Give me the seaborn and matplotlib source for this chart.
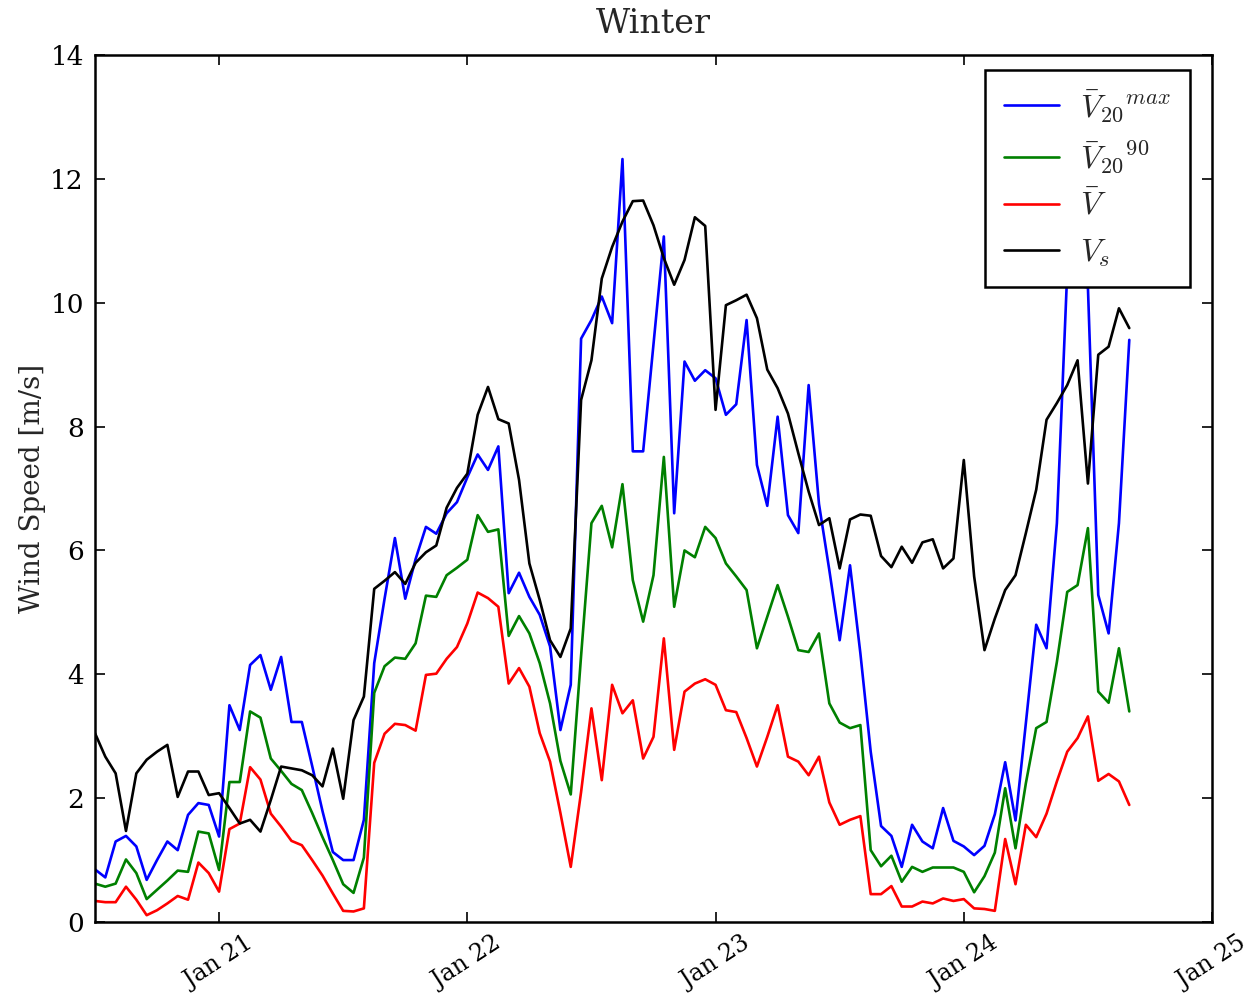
import numpy as np
import pandas as pd
import matplotlib
matplotlib.use("Agg")
import matplotlib.pyplot as plt
import matplotlib.dates as mdates
import seaborn as sns

# Hourly wind speed series, starting 20 Jan 12:00
start = "2012-01-20 12:00"

v20_max = [0.85, 0.72, 1.30, 1.39, 1.22, 0.68, 1.00, 1.30, 1.16, 1.73,
           1.92, 1.89, 1.38, 3.50, 3.10, 4.15, 4.31, 3.75, 4.28, 3.23,
           3.23, 2.52, 1.79, 1.13, 1.00, 1.00, 1.65, 4.18, 5.22, 6.20,
           5.22, 5.86, 6.38, 6.27, 6.60, 6.78, 7.18, 7.55, 7.30, 7.68,
           5.31, 5.64, 5.25, 4.96, 4.45, 3.10, 3.83, 9.42, 9.72, 10.10,
           9.67, 12.32, 7.60, 7.60, 9.33, 11.07, 6.60, 9.05, 8.74, 8.91,
           8.78, 8.19, 8.36, 9.72, 7.38, 6.72, 8.16, 6.57, 6.28, 8.67,
           6.75, 5.68, 4.55, 5.76, 4.34, 2.75, 1.55, 1.39, 0.89, 1.57,
           1.30, 1.19, 1.84, 1.31, 1.22, 1.08, 1.23, 1.74, 2.58, 1.64,
           3.21, 4.80, 4.42, 6.44, 10.50, 10.27, 10.25, 5.28, 4.66, 6.44,
           9.40]

v20_90 = [0.62, 0.57, 0.62, 1.01, 0.79, 0.37, 0.52, 0.67, 0.83, 0.81,
          1.46, 1.43, 0.84, 2.26, 2.26, 3.40, 3.30, 2.64, 2.44, 2.23,
          2.13, 1.76, 1.37, 1.00, 0.61, 0.47, 1.04, 3.70, 4.13, 4.27,
          4.25, 4.50, 5.27, 5.25, 5.60, 5.72, 5.85, 6.57, 6.30, 6.34,
          4.62, 4.94, 4.66, 4.18, 3.53, 2.60, 2.06, 4.30, 6.44, 6.72,
          6.05, 7.07, 5.52, 4.85, 5.60, 7.51, 5.09, 6.00, 5.89, 6.38,
          6.20, 5.79, 5.58, 5.36, 4.42, 4.93, 5.44, 4.93, 4.39, 4.36,
          4.66, 3.53, 3.22, 3.13, 3.18, 1.16, 0.90, 1.07, 0.65, 0.89,
          0.81, 0.88, 0.88, 0.88, 0.81, 0.48, 0.74, 1.12, 2.16, 1.19,
          2.24, 3.13, 3.23, 4.20, 5.33, 5.44, 6.36, 3.72, 3.54, 4.42,
          3.40]

v_mean = [0.34, 0.32, 0.32, 0.57, 0.36, 0.11, 0.19, 0.30, 0.42, 0.36,
          0.96, 0.79, 0.49, 1.50, 1.59, 2.50, 2.30, 1.75, 1.54, 1.31,
          1.24, 1.00, 0.75, 0.46, 0.18, 0.17, 0.22, 2.57, 3.04, 3.20,
          3.18, 3.09, 3.99, 4.01, 4.25, 4.44, 4.82, 5.32, 5.23, 5.09,
          3.85, 4.10, 3.80, 3.05, 2.59, 1.76, 0.89, 2.10, 3.45, 2.29,
          3.83, 3.37, 3.58, 2.64, 2.99, 4.58, 2.78, 3.72, 3.85, 3.92,
          3.83, 3.42, 3.39, 2.97, 2.51, 2.99, 3.50, 2.67, 2.59, 2.37,
          2.67, 1.93, 1.57, 1.65, 1.71, 0.45, 0.45, 0.58, 0.25, 0.25,
          0.33, 0.30, 0.38, 0.34, 0.37, 0.22, 0.21, 0.18, 1.34, 0.61,
          1.57, 1.37, 1.75, 2.27, 2.75, 2.97, 3.32, 2.28, 2.39, 2.27,
          1.89]

v_s = [3.05, 2.67, 2.40, 1.47, 2.40, 2.62, 2.75, 2.86, 2.02, 2.43,
       2.43, 2.05, 2.08, 1.84, 1.59, 1.65, 1.46, 1.97, 2.51, 2.48,
       2.45, 2.37, 2.19, 2.80, 1.99, 3.26, 3.64, 5.38, 5.51, 5.65,
       5.46, 5.80, 5.97, 6.08, 6.69, 7.01, 7.24, 8.19, 8.64, 8.12,
       8.05, 7.14, 5.79, 5.20, 4.55, 4.28, 4.74, 8.43, 9.07, 10.39,
       10.90, 11.31, 11.64, 11.65, 11.25, 10.72, 10.29, 10.69, 11.38, 11.24,
       8.27, 9.96, 10.04, 10.13, 9.75, 8.92, 8.62, 8.21, 7.57, 6.95,
       6.41, 6.52, 5.71, 6.50, 6.58, 6.56, 5.91, 5.73, 6.06, 5.80,
       6.13, 6.18, 5.71, 5.87, 7.46, 5.58, 4.39, 4.90, 5.36, 5.60,
       6.28, 6.98, 8.11, 8.38, 8.67, 9.07, 7.08, 9.16, 9.29, 9.91,
       9.59]

labels = [r"$\bar{V}_{20}{}^{max}$", r"$\bar{V}_{20}{}^{90}$",
          r"$\bar{V}$", r"$V_s$"]
colors = ["#0000ff", "#008000", "#ff0000", "#000000"]

times = pd.date_range(start, periods=len(v_s), freq="h")
frames = []
for lab, vals in zip(labels, [v20_max, v20_90, v_mean, v_s]):
    frames.append(pd.DataFrame({"time": times, "speed": vals, "series": lab}))
df = pd.concat(frames, ignore_index=True)

sns.set_style("ticks")
plt.rcParams["font.family"] = ["DejaVu Serif"]
plt.rcParams["mathtext.fontset"] = "cm"
plt.rcParams["axes.linewidth"] = 1.8

fig = plt.figure(figsize=(12.56, 10.0), dpi=100)
ax = fig.add_axes([0.0756, 0.078, 0.8894, 0.867])

sns.lineplot(data=df, x="time", y="speed", hue="series", hue_order=labels,
             palette=dict(zip(labels, colors)), linewidth=1.9,
             estimator=None, ax=ax)

ax.set_xlim(pd.Timestamp("2012-01-20 12:00"), pd.Timestamp("2012-01-25 00:00"))
ax.set_ylim(0, 14)
ax.set_yticks(np.arange(0, 15, 2))
ax.xaxis.set_major_locator(mdates.DayLocator())
ax.xaxis.set_major_formatter(mdates.DateFormatter("%b %d"))

for sp in ax.spines.values():
    sp.set_visible(True)
    sp.set_color("black")
    sp.set_linewidth(1.8)

ax.tick_params(axis="both", which="major", direction="in", length=7,
               width=1.2, top=True, right=True, colors="black")
ax.tick_params(axis="y", labelsize=19, pad=8)
ax.tick_params(axis="x", labelsize=17, pad=7)
for lbl in ax.get_xticklabels():
    lbl.set_rotation(33)
    lbl.set_ha("center")

ax.set_xlabel("")
ax.set_ylabel("Wind Speed [m/s]", fontsize=20, labelpad=3)
ax.set_title("Winter", fontsize=24, pad=16)

handles, labs = ax.get_legend_handles_labels()
leg = ax.legend(handles, labs, loc="upper right", bbox_to_anchor=(0.980, 0.983),
                borderaxespad=0, fontsize=23, frameon=True, fancybox=False,
                shadow=False, framealpha=1, edgecolor="black",
                handlelength=1.75, handletextpad=0.65, labelspacing=0.48,
                borderpad=0.58)
leg.get_frame().set_linewidth(1.8)

fig.savefig("out.png", dpi=100)
